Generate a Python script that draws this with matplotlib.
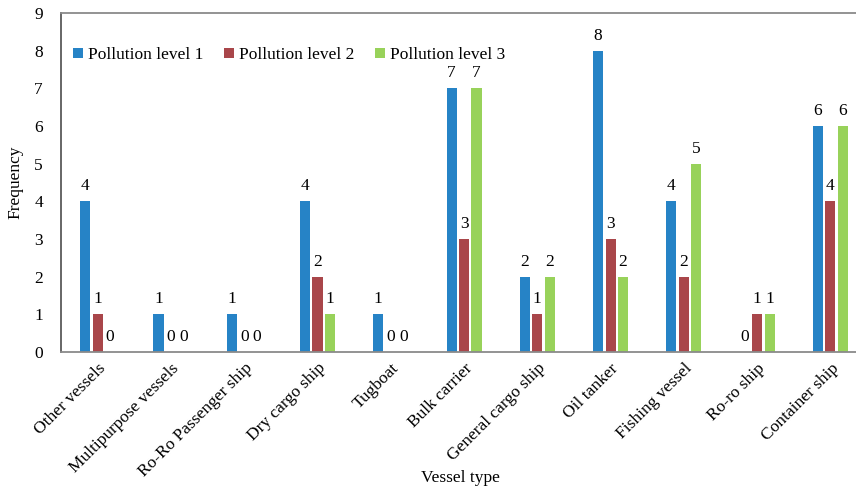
import matplotlib
matplotlib.use("Agg")
import matplotlib.pyplot as plt
import numpy as np

plt.rcParams['font.family'] = ['Liberation Serif', 'DejaVu Serif']

vessel_types = ["Other vessels", "Multipurpose vessels", "Ro-Ro Passenger ship",
                "Dry cargo ship", "Tugboat", "Bulk carrier", "General cargo ship",
                "Oil tanker", "Fishing vessel", "Ro-ro ship", "Container ship"]
level1 = [4, 1, 1, 4, 1, 7, 2, 8, 4, 0, 6]
level2 = [1, 0, 0, 2, 0, 3, 1, 3, 2, 1, 4]
level3 = [0, 0, 0, 1, 0, 7, 2, 2, 5, 1, 6]
series_names = ["Pollution level 1", "Pollution level 2", "Pollution level 3"]
colors = ["#2683C6", "#A9464A", "#98D25A"]

fs = 12.5
fig = plt.figure(figsize=(8.56, 4.9), dpi=100)
ax = fig.add_axes([0.0713, 0.2816, 0.9416, 0.6919])

x = np.arange(len(vessel_types))
width = 0.137
step = 0.17
for i, (vals, name, c) in enumerate(zip([level1, level2, level3], series_names, colors)):
    pos = x + (i - 1) * step
    ax.bar(pos, vals, width=width, color=c, label=name, zorder=2)
    for px, v in zip(pos, vals):
        ax.annotate(str(v), (px, v), xytext=(0, 5), textcoords="offset points",
                    ha="center", va="bottom", fontsize=fs)

ax.set_xlim(-0.5, len(vessel_types) - 0.5)
ax.set_ylim(0, 9)
ax.set_yticks(range(0, 10))
ax.set_xticks(x)
ax.set_xticklabels(vessel_types, rotation=45, ha="right", rotation_mode="anchor")
ax.tick_params(axis="both", length=0, labelsize=fs)
ax.tick_params(axis="y", pad=13)
ax.tick_params(axis="x", pad=6)

for side in ["left", "top", "bottom"]:
    ax.spines[side].set_color("#8A8A8A")
    ax.spines[side].set_linewidth(1.3)
ax.spines["left"].set_color("#5A5A5A")
ax.spines["right"].set_visible(False)

ax.set_ylabel("Frequency", fontsize=fs, labelpad=8)
fig.text(0.0713 + 0.9416 / 2 - 0.004, 1 - 478 / 490, "Vessel type",
         ha="center", va="center", fontsize=fs)

ax.legend(loc="upper left", bbox_to_anchor=(0.0, 0.935), ncol=3, frameon=False,
          fontsize=fs, handlelength=0.55, handleheight=0.55, handletextpad=0.3,
          columnspacing=1.2, borderaxespad=0.3)

fig.savefig("out.png", dpi=100)
